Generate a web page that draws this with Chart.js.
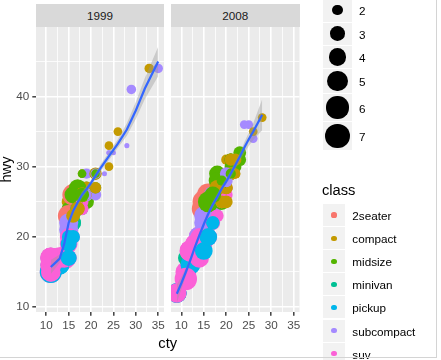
<!DOCTYPE html>
<html><head><meta charset="utf-8">
<script src="https://cdn.jsdelivr.net/npm/chart.js@4.4.1/dist/chart.umd.min.js"></script>
<style>
html,body{margin:0;padding:0;background:#fff;}
#wrap{position:relative;width:441px;height:360px;overflow:hidden;font-family:"Liberation Sans",Arial,sans-serif;}
canvas{position:absolute;left:0;top:0;}
.strip{position:absolute;top:4px;height:23px;background:#D9D9D9;color:#1A1A1A;font-size:11.7px;line-height:24px;text-align:center;}
.abs{position:absolute;white-space:nowrap;}
.key{position:absolute;background:#F2F2F2;}
.dot{position:absolute;border-radius:50%;}
#frame{position:absolute;left:0;top:0;width:436px;height:357px;border-right:1px solid #D4D4D4;border-bottom:1px solid #D4D4D4;box-sizing:content-box;pointer-events:none;}
</style></head>
<body><div id="wrap">
<canvas id="c1" width="441" height="360"></canvas>
<canvas id="c2" width="441" height="360"></canvas>
<div class="strip" id="s1" style="left:36px;width:128px;"></div>
<div class="strip" id="s2" style="left:171px;width:128.5px;"></div>
<div class="abs" id="xt" style="left:167.7px;top:342.5px;transform:translate(-50%,-50%);font-size:14.7px;color:#000;">cty</div>
<div id="legend"></div>
<div id="frame"></div>
</div>
<script>
const classNames = ['2seater','compact','midsize','minivan','pickup','subcompact','suv'];
const classColors = ['#F8766D','#C49A00','#53B400','#00C094','#00B6EB','#A58AFF','#FB61D7'];
const years = ['1999','2008'];
const xTicks = [10,12.5,15,17.5,20,22.5,25,27.5,30,32.5,35];
const xLabels = ['10','','15','','20','','25','','30','','35'];
const yTicks = [10,15,20,25,30,35,40,45];
const yLabels = ['10','','20','','30','','40',''];
const sizeBreaks = [2,3,4,5,6,7];

// 1999 panel
const cls99 = [1,1,1,1,1,1,1,1,2,6,0,0,6,6,2,2,3,3,3,3,3,3,4,4,4,4,6,6,6,4,4,4,6,6,6,6,6,6,4,4,4,4,4,5,5,5,5,5,5,5,5,5,2,2,2,2,5,5,6,6,6,6,6,6,6,6,1,1,2,2,6,6,2,2,2,6,6,5,5,5,5,6,6,6,6,2,2,2,2,1,1,1,1,1,1,1,6,4,4,4,4,1,1,1,1,1,1,1,1,5,5,5,5,2,2,2,2];
const displ99 = [1.8,1.8,2.8,2.8,1.8,1.8,2.8,2.8,2.8,5.7,5.7,5.7,5.7,6.5,2.4,3.1,2.4,3.0,3.3,3.3,3.8,3.8,3.9,3.9,5.2,5.2,3.9,5.2,5.9,5.2,5.2,5.9,4.6,5.4,4.0,4.0,4.0,5.0,4.2,4.2,4.6,4.6,5.4,3.8,3.8,4.6,4.6,1.6,1.6,1.6,1.6,1.6,2.4,2.4,2.5,2.5,2.0,2.0,4.0,4.7,4.0,4.6,5.4,5.4,4.0,5.0,2.4,2.4,3.0,3.0,3.3,3.3,3.1,3.8,3.8,2.5,2.5,2.2,2.2,2.5,2.5,2.7,2.7,3.4,3.4,2.2,2.2,3.0,3.0,2.2,2.2,3.0,3.0,1.8,1.8,1.8,4.7,2.7,2.7,3.4,3.4,2.0,2.0,2.8,1.9,2.0,2.0,2.8,2.8,1.9,1.9,2.0,2.0,1.8,1.8,2.8,2.8];
const cty99 = [18,21,16,18,18,16,15,17,15,13,16,15,11,14,19,18,18,17,16,16,15,15,13,14,11,11,13,11,11,11,11,11,11,11,14,15,14,13,14,14,13,13,11,18,18,15,15,28,24,25,23,24,18,18,18,18,19,19,15,14,11,11,11,11,14,13,21,19,18,19,14,15,18,16,17,18,18,21,19,19,19,15,16,15,15,21,21,18,18,21,21,18,18,24,24,26,11,15,16,15,15,21,19,17,33,21,19,16,17,35,29,21,19,21,18,16,18];
const hwy99 = [29,29,26,26,26,25,25,25,24,17,26,23,15,17,27,26,24,24,22,22,22,21,17,17,17,15,17,16,15,15,16,15,17,17,17,19,17,17,17,17,16,16,15,26,25,21,22,33,32,32,29,32,26,27,26,26,26,29,20,17,15,15,17,16,17,17,29,27,26,25,17,17,26,26,27,25,24,26,26,26,26,20,20,19,17,29,27,26,26,27,29,26,26,30,33,35,15,20,20,17,19,29,26,24,44,29,26,23,24,44,41,29,26,29,29,26,26];

// 2008 panel
const cls08 = [1,1,1,1,1,1,1,2,2,6,6,6,6,0,0,0,6,6,2,2,2,3,3,3,3,3,4,4,4,4,4,6,6,6,6,4,4,4,4,4,4,4,6,6,6,4,4,5,5,5,5,5,5,5,5,5,2,2,2,5,5,5,5,5,6,6,6,6,6,6,6,6,6,6,6,2,2,2,2,2,6,6,2,2,6,6,6,6,1,1,1,1,6,6,2,2,2,1,1,1,1,1,6,4,4,4,1,1,1,1,1,1,5,5,2,2,2];
const displ08 = [2.0,2.0,3.1,2.0,2.0,3.1,3.1,3.1,4.2,5.3,5.3,5.3,6.0,6.2,6.2,7.0,5.3,5.3,2.4,3.5,3.6,3.3,3.3,3.3,3.8,4.0,3.7,3.7,4.7,4.7,4.7,4.7,4.7,4.7,5.7,4.7,4.7,4.7,4.7,4.7,4.7,5.7,5.4,4.0,4.6,4.6,5.4,4.0,4.0,4.6,4.6,5.4,1.8,1.8,1.8,2.0,2.4,2.4,3.3,2.0,2.0,2.7,2.7,2.7,3.0,3.7,4.7,4.7,5.7,6.1,4.2,4.4,5.4,4.0,4.6,2.5,2.5,3.5,3.5,3.5,4.0,5.6,3.8,5.3,2.5,2.5,2.5,2.5,2.5,2.5,2.5,2.5,4.0,4.7,2.4,2.4,3.5,2.4,2.4,3.3,1.8,1.8,5.7,2.7,4.0,4.0,2.0,2.0,2.0,2.0,2.5,2.5,2.5,2.5,2.0,2.0,3.6];
const cty08 = [20,21,18,20,19,17,15,17,16,14,11,14,12,16,15,15,14,11,22,18,17,17,17,11,16,16,15,14,14,14,9,13,9,13,13,12,9,13,13,12,9,13,12,13,13,13,13,17,16,15,15,14,26,25,24,21,21,21,19,20,20,17,16,17,17,15,9,14,13,11,12,12,12,13,13,23,23,19,19,19,14,12,18,16,20,19,20,18,20,20,19,20,16,14,21,21,19,21,22,18,28,26,13,17,15,16,21,22,22,21,21,21,20,20,19,21,17];
const hwy08 = [31,30,27,28,27,25,25,25,23,20,15,20,17,26,25,24,19,14,30,29,26,24,24,17,23,23,19,18,19,19,12,17,12,17,18,16,12,17,17,16,12,17,18,19,19,17,17,26,24,23,22,20,34,36,36,29,30,31,28,28,27,24,24,24,22,19,12,19,18,14,18,18,18,19,19,31,32,27,26,25,20,18,28,25,27,25,26,23,25,27,25,27,20,17,31,31,28,31,31,27,37,35,18,22,18,20,29,29,29,29,29,29,28,29,28,29,26];

// smoother
const smX99 = [11,12,13,14,15,16,17,18,19,20,22,24,26,28,30,32,35];
const smY99 = [15.7,16.3,16.9,19.0,22.0,23.7,24.9,26.0,26.8,27.7,29.7,31.5,33.3,35.3,38.0,41.1,45.0];
const smLo99 = [14.7,15.5,16.3,18.5,21.5,23.2,24.45,25.55,26.35,27.25,29.2,30.95,32.7,34.4,36.8,39.6,42.9];
const smHi99 = [16.7,17.1,17.5,19.5,22.5,24.2,25.35,26.45,27.25,28.15,30.2,32.05,33.9,36.2,39.2,42.6,47.1];
const smX08 = [9,10,11,12,13,14,15,16,17,18,19,20,21,22,23,24,25,26,28];
const smY08 = [11.9,13.4,15.0,16.7,18.5,20.2,21.8,23.3,24.6,25.7,26.9,27.9,29.0,30.2,31.4,32.7,33.9,35.0,37.4];
const smLo08 = [10.6,12.5,14.4,16.25,18.05,19.75,21.35,22.85,24.15,25.25,26.45,27.45,28.5,29.65,30.8,31.95,32.95,33.8,35.2];
const smHi08 = [13.2,14.3,15.6,17.15,18.95,20.65,22.25,23.75,25.05,26.15,27.35,28.35,29.5,30.75,32.0,33.45,34.85,36.2,39.6];

const FONT = '"Liberation Sans", Arial, sans-serif';
const DMIN = 1.6, DMAX = 7.0;
function sizeR(d){ const s = 1 + 5*Math.sqrt((d-DMIN)/(DMAX-DMIN)); return (s*2.845 + 0.945)*2/3; }
function pairs(xs, ys){ return xs.map((x,i)=>({x:x, y:ys[i]})); }

const bgPlugin = {
  id:'panelbg',
  beforeDraw(chart){
    const a = chart.chartArea, c = chart.ctx;
    c.save(); c.fillStyle = '#EBEBEB'; c.fillRect(a.left, a.top, a.right-a.left, a.bottom-a.top); c.restore();
  }
};

function makePanel(id, cty, hwy, displ, cls, sx, sy, lo, hi, first){
  const pts = cty.map((c,i)=>({x:c, y:hwy[i], d:displ[i], k:cls[i]}));
  const padLeft = first ? 0 : 171;
  const padRight = first ? 441-164 : 441-299.5;
  return new Chart(document.getElementById(id), {
    type:'scatter',
    data:{datasets:[
      {type:'line', data:pairs(sx,sy), borderColor:'#3366FF', borderWidth:2.2, pointRadius:0, tension:0, fill:false, clip:0},
      {type:'line', data:pairs(sx,hi), borderColor:'rgba(0,0,0,0)', borderWidth:0, pointRadius:0, tension:0, fill:'+1', backgroundColor:'rgba(153,153,153,0.4)', clip:0},
      {type:'line', data:pairs(sx,lo), borderColor:'rgba(0,0,0,0)', borderWidth:0, pointRadius:0, tension:0, fill:false, clip:0},
      {type:'scatter', data:pts, showLine:false, clip:0,
        pointRadius: ctx => ctx.raw ? sizeR(ctx.raw.d) : 3,
        pointHoverRadius: ctx => ctx.raw ? sizeR(ctx.raw.d) : 3,
        pointBackgroundColor: ctx => ctx.raw ? classColors[ctx.raw.k] : '#000',
        pointBorderWidth:0, pointBorderColor:'rgba(0,0,0,0)'}
    ]},
    options:{
      responsive:false, animation:false, devicePixelRatio:1,
      events:[],
      layout:{padding:{left:padLeft, right:padRight, top:27, bottom:23}},
      plugins:{legend:{display:false}, tooltip:{enabled:false}},
      scales:{
        x:{type:'linear', min:7.7, max:36.3, border:{display:false},
          afterBuildTicks: s => { s.ticks = xTicks.map(v=>({value:v})); },
          afterFit: s => { s.height = 25; },
          grid:{color:'#FFFFFF', lineWidth: c => xLabels[c.index] ? 1.6 : 0.8,
                tickColor: c => xLabels[c.index] ? '#333333' : 'rgba(0,0,0,0)', tickLength:3.7, tickWidth:1.4},
          ticks:{autoSkip:false, maxRotation:0, minRotation:0, padding:3, color:'#4D4D4D',
                 font:{size:11.7, family:FONT}, callback:(v,i)=>xLabels[i]}
        },
        y:{type:'linear', min:9.3, max:49.9, border:{display:false},
          afterBuildTicks: s => { s.ticks = yTicks.map(v=>({value:v})); },
          afterFit: s => { s.width = first ? 36 : 0; },
          title:{display:first, text:'hwy', color:'#000', font:{size:14.7, family:FONT, lineHeight:1}, padding:0},
          grid:{color:'#FFFFFF', lineWidth: c => yLabels[c.index] ? 1.6 : 0.8, drawTicks:first,
                tickColor: c => yLabels[c.index] ? '#333333' : 'rgba(0,0,0,0)', tickLength:3.7, tickWidth:1.4},
          ticks:{display:first, autoSkip:false, padding:3, color:'#4D4D4D',
                 font:{size:11.7, family:FONT}, callback:(v,i)=>yLabels[i]}
        }
      }
    },
    plugins:[bgPlugin]
  });
}

makePanel('c1', cty99, hwy99, displ99, cls99, smX99, smY99, smLo99, smHi99, true);
makePanel('c2', cty08, hwy08, displ08, cls08, smX08, smY08, smLo08, smHi08, false);

document.getElementById('s1').textContent = years[0];
document.getElementById('s2').textContent = years[1];

// legends
const leg = document.getElementById('legend');
function el(cls, style, text){ const d = document.createElement('div'); d.className = cls; Object.assign(d.style, style); if (text !== undefined) d.textContent = text; leg.appendChild(d); return d; }
const sizeTops = [-1, 22.7, 46, 69.3, 94, 122];
const sizeHs = [22.7, 22.3, 22.3, 23.7, 27, 28];
sizeBreaks.forEach((b,i)=>{
  const top = sizeTops[i], h = sizeHs[i], cy = top + h/2;
  el('key', {left:'323px', top:top+'px', width:'29px', height:h+'px'});
  const r = sizeR(b);
  el('dot', {left:(337.5-r)+'px', top:(cy-r)+'px', width:(2*r)+'px', height:(2*r)+'px', background:'#000'});
  el('abs', {left:'359px', top:cy+'px', transform:'translateY(-50%)', fontSize:'11.7px', color:'#000'}, String(b));
});
el('abs', {left:'322px', top:'190px', transform:'translateY(-50%)', fontSize:'14.7px', color:'#000'}, 'class');
classNames.forEach((n,i)=>{
  const top = 204 + 23.1*i, cy = top + 11;
  el('key', {left:'323px', top:top+'px', width:'22px', height:'22px'});
  el('dot', {left:(334-2.6)+'px', top:(cy-2.6)+'px', width:'5.2px', height:'5.2px', background:classColors[i]});
  el('abs', {left:'352.3px', top:cy+'px', transform:'translateY(-50%)', fontSize:'11.7px', color:'#000'}, n);
});
</script>
</body></html>
